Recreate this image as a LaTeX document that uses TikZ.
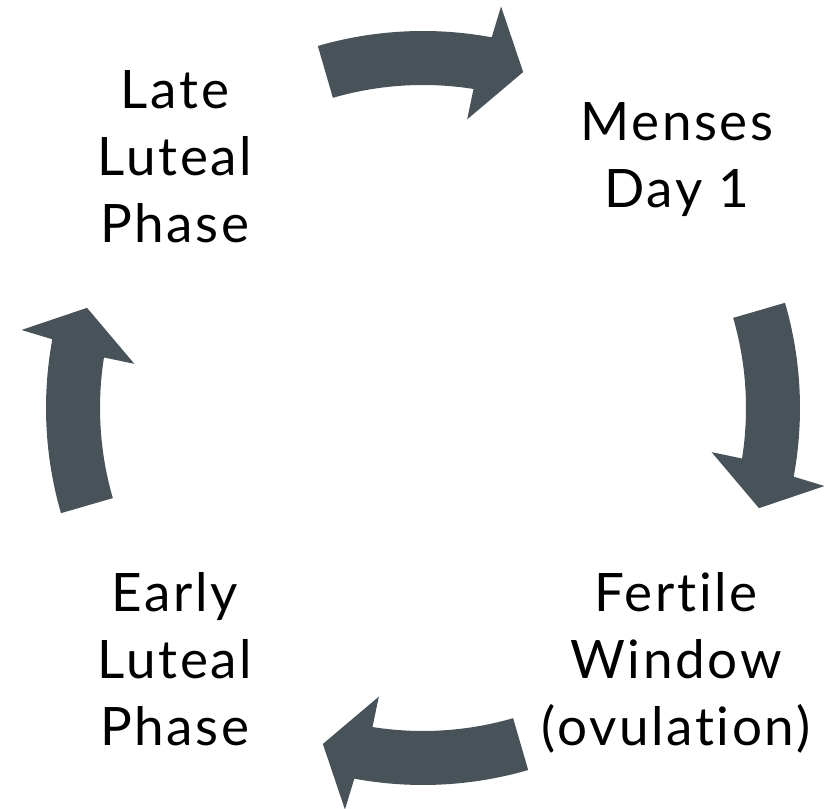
\documentclass[tikz,border=0pt]{standalone}
\usepackage{fontspec}
\setmainfont{Lato}[Ligatures={NoCommon,NoRare},LetterSpace=5]
\definecolor{arrowgray}{RGB}{72,82,89}
\begin{document}
\begin{tikzpicture}[x=1pt,y=1pt,
  cyclearrow/.style={fill=arrowgray,draw=none},
  phaselabel/.style={anchor=north,inner sep=0pt,align=center,text=black,
    font=\fontsize{53}{67}\selectfont}]
\useasboundingbox (0,0) rectangle (828,809);
\coordinate (c) at (423,401);
\foreach \o in {0,-90,-180,-270}{
  \fill[cyclearrow,shift={(c)}]
    (106.2+\o:377) arc[start angle=106.2+\o, end angle=79.5+\o, radius=377pt]
    -- (79+\o:409) -- (73.4+\o:350.6) -- (81.3+\o:292) -- (81+\o:323)
    arc[start angle=81+\o, end angle=106.2+\o, radius=323pt] -- cycle;
}
\node[phaselabel] (late) at (175,739) {Late\\Luteal\\Phase};
\node[phaselabel] (menses) at (677,707) {Menses\\Day 1};
\node[phaselabel] (fertile) at (676,237) {Fertile\\Window\\(ovulation)};
\node[phaselabel] (early) at (175,237) {Early\\Luteal\\Phase};
\end{tikzpicture}
\end{document}
